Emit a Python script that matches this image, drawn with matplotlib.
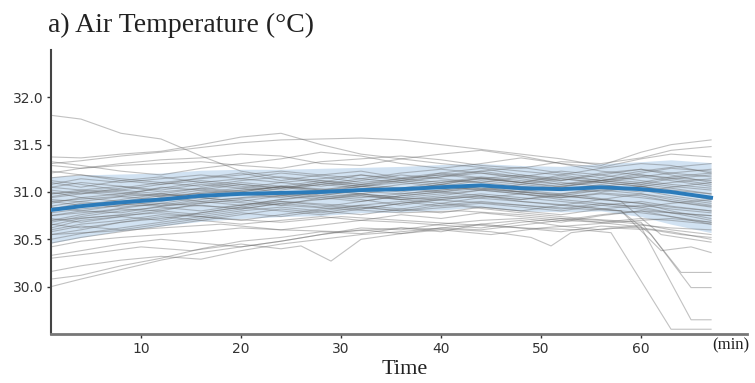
import numpy as np
import matplotlib
matplotlib.use('Agg')
import matplotlib.pyplot as plt

# common sampling times (min) for the mean, band and most traces
TIME = [1, 4, 8, 12, 16, 20, 24, 28, 32, 36, 40, 44, 48, 52, 56, 60, 63, 67]

MEAN = [30.81, 30.85, 30.89, 30.92, 30.96, 30.98, 30.99, 31.00, 31.02, 31.03,
        31.05, 31.07, 31.04, 31.03, 31.05, 31.03, 31.00, 30.94]
SD = [0.35, 0.33, 0.30, 0.28, 0.27, 0.26, 0.25, 0.25, 0.24, 0.24,
      0.24, 0.23, 0.24, 0.24, 0.25, 0.29, 0.34, 0.37]

# individual traces on the common grid
TRACES = [
    [31.81, 31.77, 31.62, 31.56, 31.38, 31.22, 31.15, 31.10, 31.18, 31.12, 31.20, 31.15, 31.10, 31.18, 31.12, 31.20, 31.25, 31.22],
    [31.37, 31.36, 31.40, 31.43, 31.50, 31.58, 31.62, 31.50, 31.40, 31.35, 31.30, 31.26, 31.22, 31.18, 31.25, 31.30, 31.28, 31.20],
    [31.30, 31.33, 31.38, 31.42, 31.47, 31.52, 31.55, 31.56, 31.57, 31.55, 31.50, 31.45, 31.40, 31.35, 31.28, 31.42, 31.50, 31.55],
    [31.28, 31.25, 31.30, 31.34, 31.36, 31.40, 31.38, 31.30, 31.28, 31.35, 31.40, 31.44, 31.38, 31.30, 31.26, 31.35, 31.40, 31.37],
    [31.32, 31.28, 31.22, 31.18, 31.25, 31.30, 31.35, 31.42, 31.38, 31.30, 31.25, 31.30, 31.36, 31.30, 31.22, 31.18, 31.15, 31.12],
    [31.20, 31.25, 31.28, 31.30, 31.32, 31.28, 31.25, 31.32, 31.35, 31.38, 31.34, 31.28, 31.25, 31.32, 31.30, 31.36, 31.44, 31.48],
    [30.00, 30.08, 30.18, 30.28, 30.36, 30.42, 30.48, 30.55, 30.62, 30.60, 30.66, 30.70, 30.72, 30.68, 30.75, 30.80, 30.78, 30.75],
    [30.16, 30.22, 30.28, 30.32, 30.29, 30.38, 30.45, 30.50, 30.55, 30.58, 30.62, 30.60, 30.65, 30.70, 30.68, 30.72, 30.70, 30.66],
    [30.08, 30.12, 30.22, 30.30, 30.40, 30.48, 30.52, 30.58, 30.56, 30.62, 30.58, 30.66, 30.70, 30.64, 30.60, 30.65, 30.62, 30.60],
    [30.33, 30.38, 30.45, 30.50, 30.46, 30.42, 30.48, 30.55, 30.60, 30.56, 30.62, 30.66, 30.62, 30.58, 30.64, 30.62, 30.58, 30.50],
    [30.42, 30.48, 30.52, 30.55, 30.58, 30.62, 30.60, 30.65, 30.70, 30.68, 30.65, 30.62, 30.68, 30.72, 30.70, 30.66, 30.60, 30.55],
    [31.10, 31.05, 31.12, 31.08, 31.15, 31.20, 31.12, 31.18, 31.22, 31.15, 31.20, 31.25, 31.18, 31.12, 31.20, 31.24, 31.18, 31.10],
    [30.95, 31.00, 30.96, 31.05, 31.02, 31.08, 31.04, 31.10, 31.06, 31.12, 31.08, 31.15, 31.10, 31.05, 31.12, 31.08, 31.04, 30.98],
    [30.70, 30.76, 30.82, 30.80, 30.88, 30.92, 30.86, 30.94, 30.98, 30.92, 30.96, 31.02, 30.98, 30.94, 30.99, 30.96, 30.90, 30.85],
    [30.60, 30.66, 30.70, 30.76, 30.74, 30.80, 30.84, 30.80, 30.86, 30.90, 30.85, 30.88, 30.84, 30.80, 30.86, 30.82, 30.78, 30.70],
    [30.85, 30.90, 30.95, 30.92, 31.00, 31.04, 31.00, 30.96, 31.02, 31.08, 31.12, 31.10, 31.06, 31.02, 31.08, 31.02, 30.96, 30.90],
    [31.00, 30.94, 30.98, 31.04, 31.10, 31.06, 31.02, 31.08, 31.14, 31.10, 31.16, 31.20, 31.14, 31.08, 31.12, 31.18, 31.14, 31.08],
    [30.75, 30.80, 30.78, 30.85, 30.90, 30.86, 30.92, 30.98, 30.94, 30.98, 31.02, 31.06, 31.00, 30.96, 31.02, 31.06, 31.00, 30.92],
    [30.55, 30.60, 30.68, 30.72, 30.78, 30.84, 30.80, 30.76, 30.82, 30.88, 30.92, 30.96, 30.90, 30.86, 30.92, 30.88, 30.80, 30.72],
    [31.15, 31.18, 31.12, 31.16, 31.10, 31.14, 31.20, 31.16, 31.10, 31.14, 31.18, 31.22, 31.26, 31.20, 31.15, 31.22, 31.26, 31.30],
    [30.90, 30.86, 30.92, 30.98, 30.94, 31.00, 31.06, 31.02, 30.98, 31.04, 31.00, 31.06, 31.02, 30.98, 31.04, 31.00, 31.05, 31.10],
    [30.65, 30.72, 30.76, 30.82, 30.86, 30.82, 30.88, 30.92, 30.96, 30.92, 30.88, 30.94, 30.98, 30.92, 30.88, 30.84, 30.78, 30.75],
    [30.80, 30.84, 30.90, 30.86, 30.92, 30.98, 31.04, 31.08, 31.04, 31.00, 31.06, 31.12, 31.08, 31.14, 31.10, 31.06, 31.02, 30.98],
    [31.05, 31.10, 31.06, 31.02, 31.08, 31.04, 31.10, 31.14, 31.18, 31.14, 31.10, 31.16, 31.12, 31.08, 31.14, 31.10, 31.16, 31.20],
    [30.50, 30.56, 30.62, 30.68, 30.74, 30.70, 30.76, 30.82, 30.86, 30.82, 30.88, 30.84, 30.80, 30.86, 30.82, 30.86, 30.82, 30.78],
    [30.88, 30.94, 30.90, 30.96, 31.02, 30.98, 30.94, 31.00, 31.06, 31.10, 31.06, 31.02, 31.08, 31.04, 31.00, 31.06, 31.10, 31.14],
    [30.72, 30.68, 30.74, 30.80, 30.76, 30.82, 30.88, 30.84, 30.90, 30.96, 31.00, 30.96, 30.92, 30.98, 31.02, 30.98, 30.92, 30.86],
    [31.22, 31.18, 31.14, 31.10, 31.14, 31.18, 31.22, 31.18, 31.14, 31.20, 31.24, 31.20, 31.16, 31.12, 31.18, 31.24, 31.20, 31.16],
    [30.62, 30.70, 30.74, 30.70, 30.78, 30.84, 30.90, 30.86, 30.82, 30.88, 30.94, 30.98, 30.94, 30.90, 30.86, 30.90, 30.85, 30.80],
    [30.98, 31.02, 31.06, 31.00, 31.04, 31.10, 31.06, 31.02, 31.08, 31.04, 31.10, 31.14, 31.10, 31.16, 31.12, 31.16, 31.12, 31.06],
    [30.78, 30.82, 30.86, 30.94, 30.90, 30.94, 30.98, 30.94, 30.90, 30.96, 31.00, 31.04, 31.00, 30.96, 30.92, 30.98, 30.94, 30.88],
    [30.58, 30.64, 30.60, 30.66, 30.72, 30.78, 30.74, 30.80, 30.76, 30.82, 30.78, 30.84, 30.80, 30.76, 30.82, 30.78, 30.74, 30.68],
    [31.12, 31.08, 31.02, 31.08, 31.12, 31.08, 31.04, 31.10, 31.06, 31.02, 31.08, 31.14, 31.18, 31.14, 31.10, 31.16, 31.20, 31.24],
    [30.84, 30.80, 30.86, 30.90, 30.96, 31.00, 30.96, 31.02, 31.06, 31.02, 31.08, 31.04, 31.00, 31.06, 31.10, 31.06, 31.00, 30.94],
    [30.68, 30.74, 30.80, 30.84, 30.80, 30.86, 30.92, 30.96, 30.92, 30.86, 30.92, 30.96, 30.92, 30.96, 30.92, 30.88, 30.84, 30.80],
    [30.94, 30.98, 31.02, 30.98, 31.04, 31.00, 31.06, 31.12, 31.08, 31.14, 31.18, 31.14, 31.10, 31.06, 31.12, 31.08, 31.14, 31.18],
    [30.46, 30.52, 30.58, 30.64, 30.70, 30.66, 30.70, 30.74, 30.70, 30.76, 30.72, 30.78, 30.74, 30.70, 30.76, 30.80, 30.74, 30.66],
    [31.02, 30.98, 31.04, 31.10, 31.06, 31.12, 31.16, 31.12, 31.08, 31.12, 31.16, 31.22, 31.16, 31.10, 31.06, 31.10, 31.06, 31.02],
    [30.82, 30.88, 30.84, 30.88, 30.94, 30.90, 30.96, 30.92, 30.98, 30.94, 30.98, 31.02, 30.98, 30.94, 30.98, 30.94, 30.90, 30.84],
    [30.66, 30.62, 30.68, 30.74, 30.70, 30.76, 30.82, 30.78, 30.84, 30.80, 30.86, 30.90, 30.86, 30.82, 30.88, 30.84, 30.88, 30.92],
    [31.08, 31.14, 31.10, 31.14, 31.18, 31.14, 31.10, 31.06, 31.12, 31.18, 31.14, 31.10, 31.16, 31.22, 31.18, 31.12, 31.08, 31.04],
]

# traces with features off the common grid (dips, end-of-run drops)
dip29_t = [1, 5, 10, 15, 20, 24, 26, 29, 32, 36, 40, 45, 50, 55, 60, 63, 67]
dip29_v = [30.30, 30.35, 30.42, 30.38, 30.45, 30.40, 30.43, 30.27, 30.50, 30.56, 30.60, 30.55, 30.62, 30.66, 30.70, 30.72, 30.68]
dip51_t = [1, 6, 12, 18, 24, 30, 36, 42, 45, 49, 51, 53, 57, 61, 64, 67]
dip51_v = [30.55, 30.58, 30.62, 30.66, 30.60, 30.58, 30.62, 30.60, 30.58, 30.52, 30.43, 30.57, 30.62, 30.60, 30.55, 30.52]
drop1_t = [1, 6, 12, 18, 24, 30, 36, 42, 48, 54, 57, 63, 67]
drop1_v = [30.70, 30.74, 30.78, 30.72, 30.68, 30.74, 30.70, 30.66, 30.62, 30.60, 30.57, 29.55, 29.55]
drop2_t = [1, 6, 12, 18, 24, 30, 36, 42, 48, 54, 60, 65, 67]
drop2_v = [30.92, 30.88, 30.85, 30.90, 30.86, 30.82, 30.78, 30.80, 30.76, 30.70, 30.63, 29.65, 29.65]
drop3_t = [1, 6, 12, 18, 24, 30, 36, 42, 48, 54, 58, 61, 65, 67]
drop3_v = [31.05, 31.00, 30.95, 31.00, 31.05, 30.98, 30.92, 30.95, 30.90, 30.85, 30.80, 30.55, 29.99, 29.99]
drop4_t = [1, 6, 12, 18, 24, 30, 36, 42, 48, 54, 60, 64, 67]
drop4_v = [30.75, 30.80, 30.88, 30.84, 30.90, 30.86, 30.80, 30.85, 30.78, 30.72, 30.68, 30.15, 30.15]
drop5_t = [1, 6, 12, 18, 24, 30, 36, 42, 48, 54, 58, 62, 65, 67]
drop5_v = [30.90, 30.94, 30.98, 30.92, 30.96, 31.00, 30.94, 30.90, 30.86, 30.82, 30.80, 30.38, 30.42, 30.36]
drop6_t = [1, 6, 12, 18, 24, 30, 36, 42, 48, 54, 58, 62, 67]
drop6_v = [30.98, 31.02, 30.96, 31.00, 31.06, 31.02, 30.98, 31.04, 31.00, 30.96, 30.90, 30.55, 30.47]

SPECIAL = [(dip29_t, dip29_v), (dip51_t, dip51_v), (drop1_t, drop1_v), (drop2_t, drop2_v),
           (drop3_t, drop3_v), (drop4_t, drop4_v), (drop5_t, drop5_v), (drop6_t, drop6_v)]

YTICKS = [30.0, 30.5, 31.0, 31.5, 32.0]
XTICKS = [10, 20, 30, 40, 50, 60]

fig = plt.figure(figsize=(7.55, 3.83), dpi=100)
ax = fig.add_axes([0.0675, 0.128, 0.922, 0.7415])

t = np.array(TIME)
m = np.array(MEAN)
s = np.array(SD)
ax.fill_between(t, m - s, m + s, color='#c6dbef', alpha=0.8, lw=0, zorder=1)

for tr in TRACES:
    ax.plot(TIME, tr, color='0.4', alpha=0.4, lw=0.8, zorder=2)
for tt, vv in SPECIAL:
    ax.plot(tt, vv, color='0.4', alpha=0.4, lw=0.8, zorder=2)

ax.plot(TIME, MEAN, color='#2b7bba', lw=2.8, zorder=3)

ax.set_xlim(1, 70.6)
ax.set_ylim(29.5, 32.5)
ax.set_xticks(XTICKS)
ax.set_yticks(YTICKS)
ax.set_yticklabels([f'{v:.1f}' for v in YTICKS])
ax.tick_params(axis='both', labelsize=10, length=3, width=1, colors='#333333', pad=2)
ax.tick_params(axis='x', pad=3)

for side in ['top', 'right']:
    ax.spines[side].set_visible(False)
ax.spines['left'].set_color('#444444')
ax.spines['left'].set_linewidth(1.5)
ax.spines['bottom'].set_color('#777777')
ax.spines['bottom'].set_linewidth(2)

serif = ['Liberation Serif', 'DejaVu Serif']
fig.text(0.064, 1 - 25/383, 'a) Air Temperature (°C)', family=serif, fontsize=20,
         ha='left', va='center', color='#222222')
fig.text(405/755, 1 - 369/383, 'Time', family=serif, fontsize=16,
         ha='center', va='center', color='#222222')
fig.text(731/755, 1 - 345/383, '(min)', family=serif, fontsize=12,
         ha='center', va='center', color='#222222')

plt.savefig('out.png', dpi=100)
